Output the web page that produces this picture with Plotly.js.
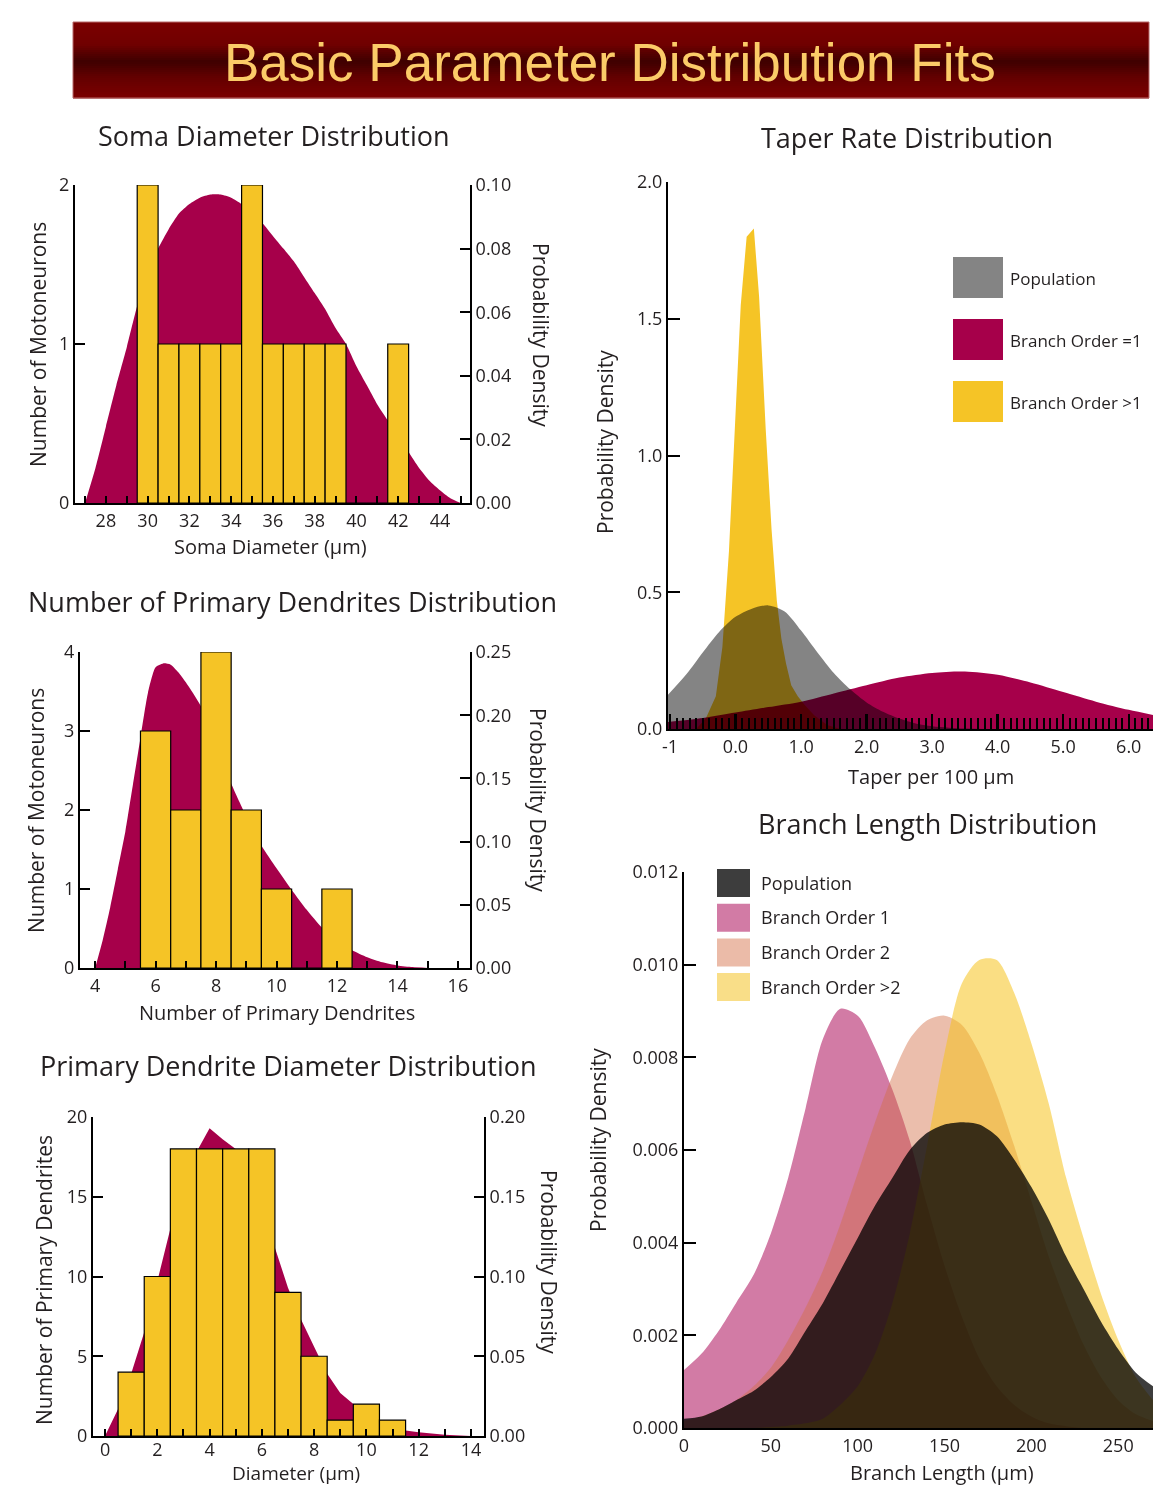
<!DOCTYPE html>
<html><head><meta charset="utf-8">
<script src="https://cdn.plot.ly/plotly-3.0.1.min.js"></script>
<style>
html,body{margin:0;padding:0;background:#fff;}
#chart{width:1153px;height:1487px;}
.js-fill{mix-blend-mode:multiply;}
</style></head><body><div id="chart"></div>
<script>
// ---------------- DATA ----------------
// Soma diameter
const somaBins   = [30,31,32,33,34,35,36,37,38,39,40,41,42];
const somaCounts = [2,1,1,1,1,2,1,1,1,1,0,0,1];
const somaFitX = [27.0,27.5,28,28.5,29,29.5,30,30.5,31,31.5,32,32.5,33,33.5,34,34.5,35,35.5,36,36.5,37,37.5,38,38.5,39,39.5,40,40.5,41,41.5,42,42.5,43,43.5,44,44.5,45];
const somaFitY = [0,0.011,0.024,0.037,0.049,0.062,0.073,0.080,0.086,0.091,0.094,0.096,0.097,0.097,0.096,0.094,0.091,0.088,0.084,0.080,0.076,0.071,0.066,0.061,0.055,0.050,0.043,0.037,0.031,0.026,0.021,0.016,0.011,0.007,0.004,0.0015,0];

// Number of primary dendrites
const dendBins   = [6,7,8,9,10,11,12];
const dendCounts = [3,2,4,2,1,0,1];
const dendFitX = [4.0,4.25,4.5,4.75,5.0,5.25,5.5,5.75,6.0,6.25,6.5,6.75,7.0,7.5,8.0,8.5,9.0,9.5,10.0,10.5,11.0,11.5,12.0,12.5,13.0,13.5,14.0,14.5,15.0];
const dendFitY = [0,0.022,0.048,0.078,0.108,0.145,0.182,0.218,0.238,0.241,0.240,0.234,0.226,0.207,0.176,0.146,0.120,0.097,0.079,0.062,0.046,0.032,0.022,0.014,0.0085,0.0045,0.002,0.0007,0];

// Primary dendrite diameter
const diamBins   = [1,2,3,4,5,6,7,8,9,10,11];
const diamCounts = [4,10,18,18,18,18,9,5,1,2,1];
const diamFitX = [0.0,0.5,1.0,1.5,2.0,2.5,3.0,3.5,4.0,4.5,5.0,5.5,6.0,6.5,7.0,7.5,8.0,8.5,9.0,9.5,10.0,11.0,11.5,12.0,13.0,14.0];
const diamFitY = [0,0.017,0.039,0.065,0.097,0.13,0.16,0.178,0.193,0.186,0.18,0.17,0.155,0.118,0.093,0.073,0.056,0.039,0.027,0.02,0.014,0.006,0.0035,0.0023,0.0008,0];

// Taper rate
const taperNames  = ['Population','Branch Order =1','Branch Order >1'];
const taperPopX = [-1.05,-0.75,-0.5,-0.25,0,0.25,0.5,0.75,1.0,1.25,1.5,1.75,2.0,2.25,2.5,2.75,3.0,3.25,3.5,4.0];
const taperPopY = [0.12,0.2,0.28,0.355,0.41,0.44,0.452,0.43,0.36,0.28,0.205,0.145,0.097,0.063,0.038,0.02,0.01,0.005,0.002,0];
const taperBO1X = [-1.05,-0.5,0,0.5,1.0,1.5,2.0,2.5,3.0,3.5,4.0,4.5,5.0,5.5,6.0,6.4];
const taperBO1Y = [0.025,0.04,0.06,0.08,0.1,0.13,0.16,0.188,0.205,0.21,0.198,0.17,0.135,0.1,0.07,0.05];
const taperBOgt1X = [-0.6,-0.45,-0.3,-0.2,-0.1,0.0,0.08,0.17,0.28,0.36,0.46,0.55,0.63,0.7,0.77,0.85,0.95,1.05,1.2,1.4,1.6];
const taperBOgt1Y = [0,0.04,0.12,0.3,0.65,1.15,1.55,1.80,1.83,1.58,1.10,0.73,0.47,0.33,0.24,0.16,0.12,0.09,0.05,0.015,0];
const taperTickVals = [-1,0,1,2,3,4,5,6];
const taperTickText = ['-1','0.0','1.0','2.0','3.0','4.0','5.0','6.0'];

// Branch length
const branchNames = ['Population','Branch Order 1','Branch Order 2','Branch Order >2'];
const branchX   = [0,10,20,30,40,50,60,70,80,90,100,110,120,130,140,150,160,170,180,190,200,210,220,230,240,250,260,270];
const branchPop = [0.0002,0.00025,0.0004,0.0006,0.0008,0.0011,0.0015,0.0021,0.0027,0.0034,0.0041,0.0048,0.0054,0.0060,0.00637,0.00655,0.0066,0.00655,0.0063,0.0058,0.0052,0.0045,0.0037,0.003,0.0023,0.0017,0.0012,0.0009];
const branchBO1 = [0.00125,0.0016,0.0021,0.0027,0.0033,0.0042,0.0054,0.0069,0.0084,0.00905,0.0089,0.0082,0.0073,0.0062,0.0048,0.0035,0.0024,0.0015,0.0009,0.0005,0.00025,0.0001,0.00004,0,0,0,0,0];
const branchBO2 = [0.00015,0.00025,0.0004,0.0006,0.0009,0.0013,0.0019,0.0026,0.0034,0.0044,0.0055,0.0066,0.0076,0.0084,0.0088,0.0089,0.0087,0.0081,0.0072,0.0061,0.0049,0.0037,0.0027,0.0018,0.0011,0.0006,0.0003,0.00015];
const branchBO3 = [0,0,0,0,0,0.00002,0.00005,0.0001,0.0002,0.0005,0.0009,0.0016,0.0027,0.0042,0.0061,0.0081,0.0096,0.0101,0.0101,0.0094,0.0083,0.0070,0.0054,0.0041,0.0029,0.0019,0.0011,0.0006];

// ---------------- STYLE ----------------
const W = 1153, H = 1487;
const PX = x => x / W, PY = y => 1 - y / H;
const FONT = '"Open Sans", "Noto Sans", sans-serif';
const INK = '#231F20';
const CRIMSON = '#A6004A';
const YEL = '#F5C426';
const taperColors = ['#848484', CRIMSON, YEL];
const branchLegendColors = ['#3D3D3D', '#D27BA5', '#EBBBA8', '#F9DE88'];
const branchFillColors = ['#3D3D3D', '#D27BA5', 'rgba(210,110,70,0.45)', 'rgba(245,195,30,0.55)'];

function ax(extra) {
  return Object.assign({
    showline: true, linecolor: '#000', linewidth: 2, showgrid: false, zeroline: false,
    ticks: 'inside', tickcolor: '#000', tickwidth: 2, ticklen: 10,
    tickfont: {family: FONT, size: 18, color: INK}, fixedrange: true
  }, extra);
}
const histMinor = {dtick: 1, tick0: 0, ticks: 'inside', ticklen: 7, tickwidth: 2, tickcolor: '#000'};

function fitTrace(x, y, xa, ya, shape) {
  return {type: 'scatter', mode: 'lines', x: x, y: y, xaxis: xa, yaxis: ya, fill: 'tozeroy',
    fillcolor: CRIMSON, line: {width: 0, color: CRIMSON, shape: shape, smoothing: 0.6},
    hoverinfo: 'skip', showlegend: false};
}
function barTrace(x, y, xa, ya) {
  return {type: 'bar', x: x, y: y, xaxis: xa, yaxis: ya, width: 1,
    marker: {color: YEL, line: {color: '#000', width: 1.2}}, showlegend: false, hoverinfo: 'x+y'};
}
function areaTrace(x, y, xa, ya, color, name, shape, blend) {
  return {type: 'scatter', mode: 'lines', name: name, x: x, y: y, xaxis: xa, yaxis: ya,
    fill: 'tozeroy', fillcolor: color, line: {width: 0, color: color, shape: shape, smoothing: 0.8},
    showlegend: false, hoverinfo: 'x+y+name', meta: blend};
}

const traces = [
  fitTrace(somaFitX, somaFitY, 'x', 'y', 'spline'),
  barTrace(somaBins, somaCounts, 'x', 'y2'),
  fitTrace(dendFitX, dendFitY, 'x2', 'y3', 'spline'),
  barTrace(dendBins, dendCounts, 'x2', 'y4'),
  fitTrace(diamFitX, diamFitY, 'x3', 'y5', 'linear'),
  barTrace(diamBins, diamCounts, 'x3', 'y6'),
  areaTrace(taperBO1X, taperBO1Y, 'x4', 'y7', taperColors[1], taperNames[1], 'spline', 'multiply'),
  areaTrace(taperBOgt1X, taperBOgt1Y, 'x4', 'y7', taperColors[2], taperNames[2], 'linear', 'multiply'),
  areaTrace(taperPopX, taperPopY, 'x4', 'y7', taperColors[0], taperNames[0], 'spline', 'multiply'),
  areaTrace(branchX, branchBO1, 'x5', 'y8', branchFillColors[1], branchNames[1], 'spline', 'normal'),
  areaTrace(branchX, branchBO2, 'x5', 'y8', branchFillColors[2], branchNames[2], 'spline', 'normal'),
  areaTrace(branchX, branchBO3, 'x5', 'y8', branchFillColors[3], branchNames[3], 'spline', 'normal'),
  areaTrace(branchX, branchPop, 'x5', 'y8', branchFillColors[0], branchNames[0], 'spline', 'multiply')
];

// ---------------- TEXT ----------------
const annotations = [];
function txt(s, x, y, size, opts) {
  annotations.push(Object.assign({text: s, xref: 'paper', yref: 'paper', x: PX(x), y: PY(y),
    xanchor: 'center', yanchor: 'middle', showarrow: false,
    font: {family: FONT, size: size, color: INK}}, opts || {}));
}
// Banner title
txt('Basic Parameter Distribution Fits', 610, 62, 53, {font: {family: '"Liberation Sans", Arial, sans-serif', size: 53, color: '#FBCB68'}});
// Chart titles
txt('Soma Diameter Distribution', 274, 135, 27);
txt('Number of Primary Dendrites Distribution', 292, 601, 27);
txt('Primary Dendrite Diameter Distribution', 288, 1065, 27);
txt('Taper Rate Distribution', 907, 137, 27);
txt('Branch Length Distribution', 927, 823, 27);
// Axis titles
txt('Number of Motoneurons', 38, 345, 21, {textangle: -90});
txt('Probability Density', 541, 335, 21, {textangle: 90});
txt('Soma Diameter (µm)', 270, 546, 20);
txt('Number of Motoneurons', 36, 811, 21, {textangle: -90});
txt('Probability Density', 538, 800, 21, {textangle: 90});
txt('Number of Primary Dendrites', 277, 1012, 20);
txt('Number of Primary Dendrites', 44, 1280, 21, {textangle: -90});
txt('Probability Density', 549, 1262, 21, {textangle: 90});
txt('Diameter (µm)', 296, 1487, 19, {yanchor: 'bottom', borderpad: 0});
txt('Probability Density', 605, 442, 21, {textangle: -90});
txt('Taper per 100 µm', 931, 776, 20);
txt('Probability Density', 598, 1140, 21, {textangle: -90});
txt('Branch Length (µm)', 942, 1472, 20);

// ---------------- SHAPES (banner + legends) ----------------
const shapes = [];
// banner gradient built from stripes
const stops = [[0, [124,0,0]], [0.3, [112,0,0]], [0.52, [62,0,0]], [0.72, [98,0,0]], [1, [124,0,0]]];
function grad(t) {
  for (let i = 1; i < stops.length; i++) {
    if (t <= stops[i][0]) {
      const a = stops[i-1], b = stops[i], f = (t - a[0]) / (b[0] - a[0]);
      return 'rgb(' + a[1].map((v, k) => Math.round(v + (b[1][k] - v) * f)).join(',') + ')';
    }
  }
  return 'rgb(124,0,0)';
}
const bTop = 22, bBot = 98, nStripes = 38;
for (let i = 0; i < nStripes; i++) {
  const y0 = bTop + (bBot - bTop) * i / nStripes, y1 = bTop + (bBot - bTop) * (i + 1) / nStripes + 0.6;
  shapes.push({type: 'rect', xref: 'paper', yref: 'paper', x0: PX(73), x1: PX(1149), y0: PY(y1), y1: PY(y0),
    fillcolor: grad((i + 0.5) / nStripes), line: {width: 0}, layer: 'below'});
}
shapes.push({type: 'rect', xref: 'paper', yref: 'paper', x0: PX(73), x1: PX(1149), y0: PY(bBot), y1: PY(bTop),
  fillcolor: 'rgba(0,0,0,0)', line: {width: 1, color: '#B86A6A'}, layer: 'below'});

// taper legend
taperNames.forEach((n, i) => {
  const top = 257 + i * 62;
  shapes.push({type: 'rect', xref: 'paper', yref: 'paper', x0: PX(953), x1: PX(1003), y0: PY(top + 41), y1: PY(top),
    fillcolor: taperColors[i], line: {width: 0}});
  txt(n, 1008, top + 21, 17, {xanchor: 'left'});
});
// branch legend
branchNames.forEach((n, i) => {
  const top = 869 + i * 34.7;
  shapes.push({type: 'rect', xref: 'paper', yref: 'paper', x0: PX(717), x1: PX(750), y0: PY(top + 28), y1: PY(top),
    fillcolor: branchLegendColors[i], line: {width: 0}});
  txt(n, 759, top + 13.5, 18, {xanchor: 'left'});
});

// ---------------- LAYOUT ----------------
const layout = {
  width: W, height: H, margin: {l: 0, r: 0, t: 0, b: 0},
  paper_bgcolor: '#fff', plot_bgcolor: 'rgba(0,0,0,0)', showlegend: false,
  font: {family: FONT, color: INK}, bargap: 0, barmode: 'overlay',
  // Soma
  xaxis: ax({domain: [PX(75), PX(470)], range: [26.52, 45.44], anchor: 'y', tick0: 0, dtick: 2, ticklen: 7, minor: histMinor}),
  yaxis: ax({domain: [PY(503), PY(185)], range: [0, 0.1], anchor: 'x', side: 'right',
    tickvals: [0, 0.02, 0.04, 0.06, 0.08, 0.10], tickformat: '.2f'}),
  yaxis2: ax({overlaying: 'y', anchor: 'x', side: 'left', range: [0, 2], tickvals: [0, 1, 2]}),
  // Dendrite number
  xaxis2: ax({domain: [PX(80), PX(470)], range: [3.5, 16.4], anchor: 'y3', tick0: 0, dtick: 2, ticklen: 7, minor: histMinor}),
  yaxis3: ax({domain: [PY(968), PY(652)], range: [0, 0.25], anchor: 'x2', side: 'right',
    tickvals: [0, 0.05, 0.10, 0.15, 0.20, 0.25], tickformat: '.2f'}),
  yaxis4: ax({overlaying: 'y3', anchor: 'x2', side: 'left', range: [0, 4], tickvals: [0, 1, 2, 3, 4]}),
  // Dendrite diameter
  xaxis3: ax({domain: [PX(93), PX(484)], range: [-0.46, 14.5], anchor: 'y5', tick0: 0, dtick: 2, ticklen: 7,
    ticklabelstandoff: -4, minor: histMinor}),
  yaxis5: ax({domain: [PY(1436), PY(1117)], range: [0, 0.2], anchor: 'x3', side: 'right',
    tickvals: [0, 0.05, 0.10, 0.15, 0.20], tickformat: '.2f'}),
  yaxis6: ax({overlaying: 'y5', anchor: 'x3', side: 'left', range: [0, 20], tickvals: [0, 5, 10, 15, 20]}),
  // Taper
  xaxis4: ax({domain: [PX(668), 1], range: [-1.03, 6.37], anchor: 'y7', tickmode: 'array',
    tickvals: taperTickVals, ticktext: taperTickText, ticklen: 15, tickwidth: 2.5,
    minor: {tickmode: 'linear', tick0: 0, dtick: 0.1, ticks: 'inside', ticklen: 11, tickwidth: 2, tickcolor: '#000'}}),
  yaxis7: ax({domain: [PY(729), PY(182)], range: [0, 2], anchor: 'x4', tickvals: [0, 0.5, 1.0, 1.5, 2.0],
    tickformat: '.1f', ticklen: 12}),
  // Branch length
  xaxis5: ax({domain: [PX(684), 1], range: [0, 270], anchor: 'y8', tickvals: [0, 50, 100, 150, 200, 250], ticks: ''}),
  yaxis8: ax({domain: [PY(1428), PY(872)], range: [0, 0.012], anchor: 'x5',
    tickvals: [0, 0.002, 0.004, 0.006, 0.008, 0.010, 0.012], tickformat: '.3f', ticklen: 12}),
  annotations: annotations,
  shapes: shapes
};

Plotly.newPlot('chart', traces, layout, {displayModeBar: false, staticPlot: true}).then(function () {
  // per-trace blending: overlapping transparent areas as in the original figure
  document.querySelectorAll('g.trace.scatter').forEach(function (g) {
    const cd = g.__data__;
    const tr = cd && cd[0] && cd[0].trace;
    if (tr && tr.meta) {
      g.querySelectorAll('.js-fill').forEach(function (p) { p.style.mixBlendMode = tr.meta; });
    }
  });
});
</script></body></html>
